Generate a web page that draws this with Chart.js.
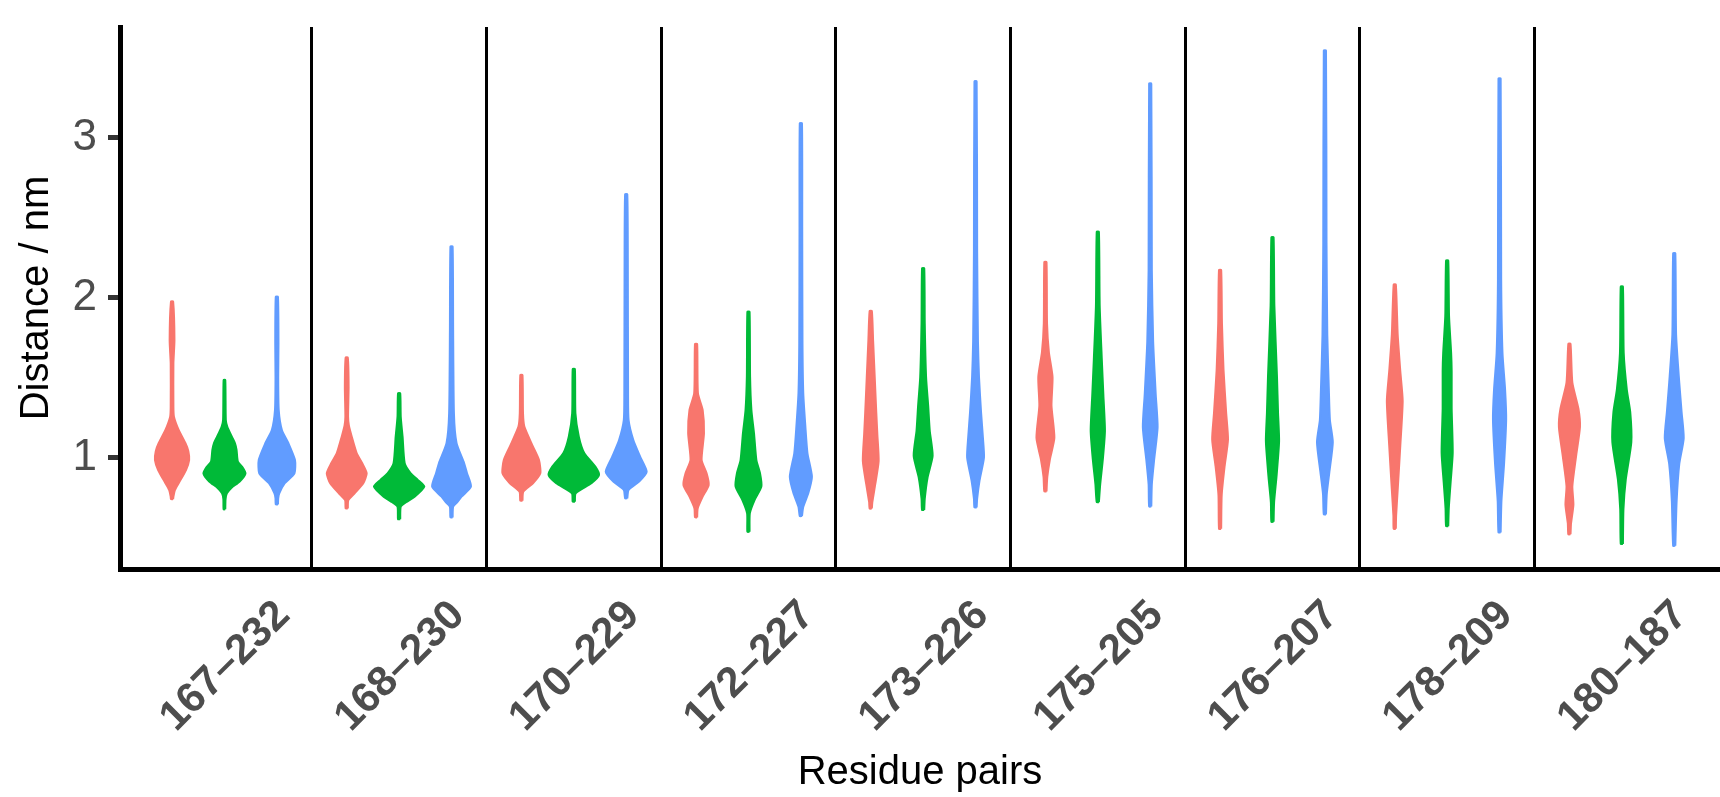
<!DOCTYPE html>
<html>
<head>
<meta charset="utf-8">
<script src="https://cdn.jsdelivr.net/npm/chart.js@4.4.0/dist/chart.umd.min.js"></script>
<style>
  html, body { margin: 0; padding: 0; background: #fff; }
  canvas { display: block; }
</style>
</head>
<body>
<canvas id="violinChart" width="1720" height="797"></canvas>
<script>
// Residue pairs, one facet each
const pairs = ["167–232", "168–230", "170–229", "172–227", "173–226", "175–205", "176–207", "178–209", "180–187"];
const yTicks = [1, 2, 3];

// Violin outlines, bottom to top: [distance (nm), relative width]
const redViolins = [
  [[0.74,0.08],[0.755,0.09],[0.797,0.15],[0.839,0.29],[0.922,0.57],[0.984,0.69],[1.04,0.66],[1.089,0.55],[1.172,0.29],[1.255,0.11],[1.318,0.09],[1.589,0.09],[1.734,0.13],[1.974,0.08]],
  [[0.682,0.08],[0.734,0.1],[0.776,0.34],[0.839,0.67],[0.901,0.8],[0.964,0.63],[1.026,0.42],[1.13,0.23],[1.2,0.12],[1.255,0.09],[1.443,0.11],[1.624,0.08]],
  [[0.73,0.08],[0.786,0.11],[0.839,0.48],[0.901,0.76],[0.984,0.71],[1.068,0.48],[1.193,0.15],[1.276,0.1],[1.516,0.08]],
  [[0.626,0.08],[0.682,0.1],[0.755,0.29],[0.828,0.52],[0.901,0.44],[0.984,0.25],[1.151,0.34],[1.297,0.29],[1.401,0.11],[1.709,0.08]],
  [[0.681,0.08],[0.722,0.1],[0.833,0.21],[0.978,0.34],[1.145,0.29],[1.279,0.25],[1.503,0.19],[1.726,0.13],[1.916,0.08]],
  [[0.788,0.08],[0.878,0.11],[0.989,0.21],[1.123,0.38],[1.324,0.27],[1.503,0.31],[1.659,0.17],[1.837,0.1],[2.221,0.08]],
  [[0.554,0.08],[0.766,0.1],[0.944,0.21],[1.112,0.34],[1.279,0.27],[1.547,0.17],[1.837,0.11],[2.172,0.08]],
  [[0.554,0.08],[0.636,0.09],[0.798,0.15],[1.075,0.25],[1.353,0.34],[1.538,0.25],[1.768,0.15],[2.081,0.08]],
  [[0.52,0.08],[0.589,0.1],[0.705,0.19],[0.821,0.15],[1.006,0.29],[1.191,0.44],[1.306,0.38],[1.468,0.15],[1.711,0.08]]
];
const greenViolins = [
  [[0.676,0.07],[0.74,0.08],[0.776,0.13],[0.81,0.3],[0.85,0.62],[0.9,0.84],[0.935,0.74],[0.975,0.55],[1.047,0.5],[1.089,0.44],[1.13,0.32],[1.19,0.15],[1.234,0.09],[1.484,0.07]],
  [[0.614,0.08],[0.692,0.1],[0.72,0.3],[0.755,0.63],[0.818,1.0],[0.86,0.75],[0.901,0.48],[0.964,0.25],[1.13,0.17],[1.255,0.1],[1.401,0.08]],
  [[0.724,0.08],[0.776,0.11],[0.839,0.71],[0.89,1.0],[0.943,0.86],[1.026,0.44],[1.13,0.23],[1.276,0.1],[1.553,0.08]],
  [[0.536,0.08],[0.651,0.09],[0.734,0.27],[0.818,0.53],[0.901,0.48],[0.984,0.34],[1.151,0.25],[1.297,0.15],[1.505,0.1],[1.911,0.08]],
  [[0.672,0.08],[0.743,0.1],[0.878,0.21],[1.011,0.4],[1.168,0.29],[1.324,0.23],[1.503,0.15],[1.837,0.1],[2.183,0.08]],
  [[0.721,0.08],[0.833,0.13],[0.989,0.23],[1.168,0.31],[1.391,0.25],[1.614,0.19],[1.949,0.11],[2.411,0.08]],
  [[0.598,0.08],[0.721,0.1],[0.878,0.19],[1.101,0.29],[1.279,0.25],[1.503,0.21],[1.949,0.11],[2.377,0.08]],
  [[0.571,0.08],[0.682,0.1],[0.844,0.17],[1.029,0.25],[1.306,0.21],[1.538,0.21],[1.653,0.19],[1.884,0.11],[2.231,0.08]],
  [[0.46,0.08],[0.679,0.1],[0.864,0.19],[1.096,0.4],[1.283,0.36],[1.422,0.23],[1.653,0.11],[2.068,0.08]]
];
const blueViolins = [
  [[0.707,0.08],[0.745,0.09],[0.776,0.13],[0.839,0.34],[0.901,0.71],[0.984,0.73],[1.089,0.48],[1.172,0.23],[1.297,0.11],[1.5,0.09],[1.715,0.1],[2.005,0.08]],
  [[0.626,0.08],[0.692,0.1],[0.72,0.25],[0.755,0.42],[0.818,0.78],[0.901,0.63],[0.964,0.52],[1.089,0.23],[1.276,0.13],[1.797,0.1],[2.318,0.08]],
  [[0.745,0.08],[0.797,0.13],[0.849,0.53],[0.911,0.82],[1.005,0.57],[1.109,0.31],[1.234,0.13],[1.401,0.11],[2.234,0.1],[2.645,0.08]],
  [[0.634,0.08],[0.692,0.13],[0.776,0.32],[0.88,0.46],[1.026,0.29],[1.193,0.21],[1.401,0.13],[1.714,0.1],[2.443,0.09],[3.089,0.08]],
  [[0.688,0.08],[0.743,0.1],[0.855,0.19],[1.0,0.36],[1.123,0.32],[1.279,0.25],[1.503,0.17],[1.726,0.13],[2.284,0.1],[3.351,0.08]],
  [[0.694,0.08],[0.833,0.1],[0.989,0.19],[1.19,0.32],[1.391,0.25],[1.726,0.15],[2.172,0.1],[3.337,0.08]],
  [[0.644,0.08],[0.771,0.11],[0.91,0.21],[1.096,0.34],[1.234,0.23],[1.42,0.19],[1.767,0.13],[2.346,0.1],[3.544,0.08]],
  [[0.532,0.08],[0.728,0.11],[0.959,0.21],[1.237,0.29],[1.422,0.25],[1.653,0.15],[2.116,0.1],[3.369,0.08]],
  [[0.448,0.08],[0.728,0.13],[0.959,0.23],[1.121,0.4],[1.283,0.32],[1.468,0.23],[1.767,0.11],[2.276,0.08]]
];

const groups = [
  { violins: redViolins, color: "#F8766D", offset: -0.3 },
  { violins: greenViolins, color: "#00BA38", offset: 0 },
  { violins: blueViolins, color: "#619CFF", offset: 0.3 }
];

const SLOT = 0.3;           // dodge width of one violin (x units)
const EDGE = 1 / 175;       // one pixel, taken back for the outline stroke
const X_MIN = -0.598, X_MAX = 8.562;
const Y_MIN = 0.303, Y_MAX = 3.691;

// turn a density profile into a closed outline around its centre
function outline(center, profile) {
  const half = w => Math.max(w * SLOT / 2 - EDGE, 0.002);
  const right = profile.map(([y, w]) => ({ x: center + half(w), y }));
  const left = profile.slice().reverse().map(([y, w]) => ({ x: center - half(w), y }));
  return right.concat(left, [right[0]]);
}

const datasets = [];
groups.forEach(g => {
  g.violins.forEach((profile, i) => {
    datasets.push({
      data: outline(i + g.offset, profile),
      showLine: true,
      fill: "shape",
      backgroundColor: g.color,
      borderColor: g.color,
      borderWidth: 2,
      borderJoinStyle: "round",
      tension: 0.2,
      pointRadius: 0,
      pointHoverRadius: 0
    });
  });
});

Chart.defaults.font.family = "'Liberation Sans', Arial, Helvetica, sans-serif";

new Chart(document.getElementById("violinChart"), {
  type: "scatter",
  data: { datasets },
  options: {
    responsive: false,
    animation: false,
    devicePixelRatio: 1,
    layout: { padding: { top: 27, right: 0, bottom: 0, left: 0 } },
    plugins: { legend: { display: false }, tooltip: { enabled: false } },
    scales: {
      x: {
        type: "linear",
        position: "bottom",
        min: X_MIN,
        max: X_MAX,
        afterBuildTicks: s => { s.ticks = pairs.map((p, i) => ({ value: i })); },
        afterFit: s => { s.height = 228; s.paddingLeft = 0; s.paddingRight = 0; },
        grid: { display: false, drawTicks: false, tickLength: 0 },
        border: { display: true, color: "#000", width: 5 },
        ticks: {
          autoSkip: false,
          minRotation: 45,
          maxRotation: 45,
          labelOffset: 59,
          padding: 22,
          color: "#4D4D4D",
          font: { size: 42, weight: "bold" },
          callback: (v, i) => pairs[i]
        },
        title: {
          display: true,
          text: "Residue pairs",
          color: "#000",
          font: { size: 40 },
          padding: { top: 2, bottom: 0 }
        }
      },
      xSep: {
        type: "linear",
        position: "top",
        min: X_MIN,
        max: X_MAX,
        afterBuildTicks: s => { s.ticks = pairs.slice(1).map((p, i) => ({ value: i + 0.5 })); },
        afterFit: s => { s.height = 0; },
        grid: { display: true, drawOnChartArea: true, drawTicks: false, color: "#000", lineWidth: 3 },
        border: { display: false },
        ticks: { display: false }
      },
      y: {
        type: "linear",
        position: "left",
        min: Y_MIN,
        max: Y_MAX,
        afterBuildTicks: s => { s.ticks = yTicks.map(v => ({ value: v })); },
        afterFit: s => { s.width = 120; s.paddingTop = 0; s.paddingBottom = 0; },
        grid: { display: true, drawOnChartArea: false, drawTicks: true, tickLength: 12, tickWidth: 5, tickColor: "#333333" },
        border: { display: true, color: "#000", width: 5 },
        ticks: {
          padding: 11,
          color: "#4D4D4D",
          font: { size: 44 },
          callback: v => String(v)
        },
        title: {
          display: true,
          text: "Distance / nm",
          color: "#000",
          font: { size: 40 },
          padding: { top: 13, bottom: 0 }
        }
      }
    }
  }
});
</script>
</body>
</html>
